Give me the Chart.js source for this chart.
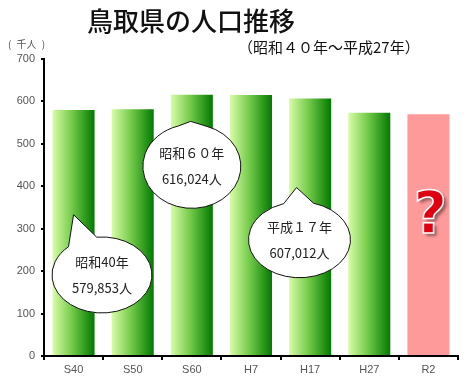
<!DOCTYPE html>
<html>
<head>
<meta charset="utf-8">
<script src="https://cdn.jsdelivr.net/npm/chart.js@4"></script>
<style>
  body { margin: 0; background: #fff; }
  #wrap { position: relative; width: 467px; height: 392px; }
  #chart { position: absolute; left: 0; top: 0; }
  .txt { position: absolute; font-family: "Noto Sans CJK JP", sans-serif; white-space: nowrap; }
  #title { left: 87px; top: 1px; font-size: 26px; font-weight: 500; color: #111; }
  #sub { left: 238px; top: 36px; font-size: 15px; color: #111; }
  #unit { left: 8px; top: 36px; font-size: 10px; color: #555; word-spacing: 3px; }
</style>
</head>
<body>
<div id="wrap">
  <canvas id="chart" width="467" height="392"></canvas>
  <div class="txt" id="title">鳥取県の人口推移</div>
  <div class="txt" id="sub">（昭和４０年～平成27年）</div>
  <div class="txt" id="unit">( 千人 )</div>
</div>
<script>
// census years (showa / heisei / reiwa)
const categories = ["S40", "S50", "S60", "H7", "H17", "H27", "R2"];
// population in thousands, R2 is the unknown bar
const population = [579.853, 581.311, 616.024, 614.929, 607.012, 573.441, 570];
const yMax = 700;
const yStep = 100;

// callout texts
const calloutLines = [
  ["昭和40年", "579,853人"],
  ["昭和６０年", "616,024人"],
  ["平成１７年", "607,012人"]
];

// where the callouts sit, in data units (category index, value)
const calloutPlace = [
  { x: 0.48, y: 191, rx: 50, ry: 38, tipX: 0, tipY: 333, a0: -132, a1: -96 },
  { x: 2.0, y: 447, rx: 49, ry: 42, tipX: 1.98, tipY: 553, a0: -106, a1: -72 },
  { x: 3.82, y: 274, rx: 51, ry: 38, tipX: 3.77, tipY: 397, a0: -108, a1: -74 }
];

const barGradient = {
  id: "barGradient",
  beforeDatasetsDraw(chart) {
    const ctx = chart.ctx;
    chart.getDatasetMeta(0).data.forEach((bar, i) => {
      if (i === categories.length - 1) return;
      const g = ctx.createLinearGradient(bar.x - bar.width / 2, 0, bar.x + bar.width / 2, 0);
      g.addColorStop(0, "#d8fca8");
      g.addColorStop(0.45, "#76cc4c");
      g.addColorStop(1, "#007a00");
      bar.options.backgroundColor = g;
    });
  }
};

const callouts = {
  id: "callouts",
  afterDatasetsDraw(chart) {
    const ctx = chart.ctx;
    const xs = chart.scales.x, ys = chart.scales.y;
    ctx.save();
    calloutPlace.forEach((p, k) => {
      const cx = xs.getPixelForValue(p.x), cy = ys.getPixelForValue(p.y);
      const tx = xs.getPixelForValue(p.tipX), ty = ys.getPixelForValue(p.tipY);
      const a0 = p.a0 * Math.PI / 180, a1 = p.a1 * Math.PI / 180;
      ctx.beginPath();
      ctx.ellipse(cx, cy, p.rx, p.ry, 0, a1, a0 + Math.PI * 2, false);
      ctx.lineTo(tx, ty);
      ctx.closePath();
      ctx.fillStyle = "#fff";
      ctx.fill();
      ctx.lineWidth = 1;
      ctx.strokeStyle = "#111";
      ctx.stroke();
      ctx.fillStyle = "#222";
      ctx.font = "13px 'Noto Sans CJK JP', sans-serif";
      ctx.textAlign = "center";
      ctx.textBaseline = "middle";
      ctx.fillText(calloutLines[k][0], cx, cy - 13);
      ctx.fillText(calloutLines[k][1], cx, cy + 13);
    });

    // question mark on the R2 bar
    const qx = xs.getPixelForValue(categories.length - 1) + 2;
    const qy = ys.getPixelForValue(326);
    ctx.font = "bold 58px 'DejaVu Sans', sans-serif";
    ctx.textAlign = "center";
    ctx.textBaseline = "middle";
    ctx.shadowColor = "rgba(0,0,0,0.4)";
    ctx.shadowOffsetX = 3;
    ctx.shadowOffsetY = 3;
    ctx.shadowBlur = 3;
    ctx.fillStyle = "#e00010";
    ctx.fillText("?", qx, qy);
    ctx.shadowColor = "transparent";
    ctx.lineWidth = 1.5;
    ctx.strokeStyle = "#fff";
    ctx.strokeText("?", qx, qy);
    ctx.restore();
  }
};

new Chart(document.getElementById("chart"), {
  type: "bar",
  data: {
    labels: categories,
    datasets: [{
      data: population,
      backgroundColor: population.map((v, i) => i === population.length - 1 ? "#ff9a9a" : "#5fbf3c"),
      borderWidth: 0,
      barPercentage: 0.71,
      categoryPercentage: 1
    }]
  },
  options: {
    responsive: false,
    animation: false,
    layout: { padding: { top: 59, right: 9, left: 0, bottom: 0 } },
    plugins: { legend: { display: false }, tooltip: { enabled: false }, title: { display: false } },
    scales: {
      x: {
        grid: { display: true, drawOnChartArea: false, tickLength: 4, color: "#000", lineWidth: 2 },
        border: { color: "#000", width: 2 },
        ticks: { color: "#555", font: { family: "'Liberation Sans', sans-serif", size: 11 }, padding: 3 },
        afterFit(scale) { scale.height = 36; }
      },
      y: {
        min: 0,
        max: yMax,
        grid: { display: true, drawOnChartArea: false, tickLength: 3, color: "#000", lineWidth: 2 },
        border: { color: "#000", width: 2 },
        ticks: { stepSize: yStep, color: "#555", font: { family: "'Liberation Sans', sans-serif", size: 11 }, padding: 6 },
        afterFit(scale) { scale.width = 44; }
      }
    }
  },
  plugins: [barGradient, callouts]
});
</script>
</body>
</html>
